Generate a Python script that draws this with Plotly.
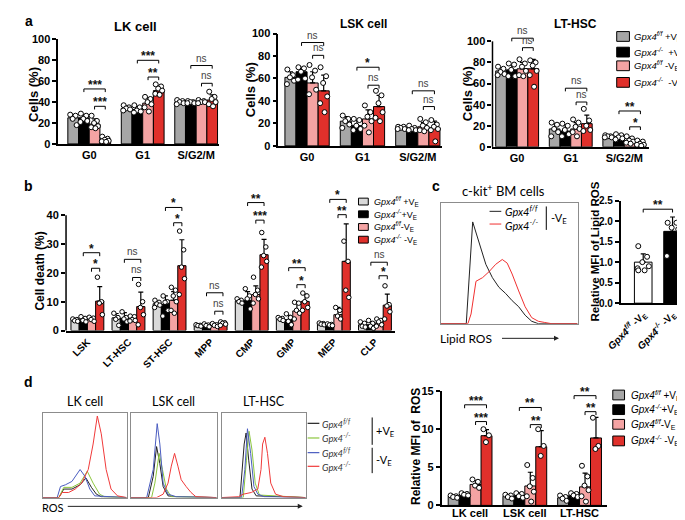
import plotly.graph_objects as go

W, H = 685, 520
def X(px): return px / W
def Y(py): return 1 - py / H

FONT = "Liberation Sans, Arial, sans-serif"
HFONT = "Lato, Open Sans, sans-serif"

# ---------------- data ----------------
phases = ["G0", "G1", "S/G2/M"]
legend_labels_a = ["<i>Gpx4</i><sup><i>f/f</i></sup> +V<sub>E</sub>",
                   "<i>Gpx4</i><sup><i>-/-</i></sup>  +V<sub>E</sub>",
                   "<i>Gpx4</i><sup><i>f/f</i></sup> -V<sub>E</sub>",
                   "<i>Gpx4</i><sup><i>-/-</i></sup>  -V<sub>E</sub>"]
legend_labels_bd = ["<i>Gpx4</i><sup><i>f/f</i></sup> +V<sub>E</sub>",
                    "<i>Gpx4</i><sup><i>-/-</i></sup>+V<sub>E</sub>",
                    "<i>Gpx4</i><sup><i>f/f</i></sup>-V<sub>E</sub>",
                    "<i>Gpx4</i><sup><i>-/-</i></sup> -V<sub>E</sub>"]

# panel a, LK cell (series x phase)
lk_means = [[25, 34, 40], [25, 33, 40], [19, 39, 40], [4, 51, 42]]
lk_sd = [[3, 2, 1], [3, 3, 1], [5, 5, 1.5], [2, 4, 5]]
lk_dots = [
    [[28, 27, 24, 18], [37, 35, 34, 33, 32], [42, 41, 40, 39, 38]],
    [[29, 27, 24, 22, 21], [37, 35, 32, 31, 30], [41, 40, 40, 39, 39]],
    [[27, 22, 20, 17, 16, 15], [45, 43, 40, 38, 35, 31], [42, 41, 40, 40, 39]],
    [[7, 5, 4, 3, 2.5, 2], [57, 55, 53, 51, 48, 47], [50, 45, 43, 40, 38, 36]],
]
lk_sig = [(0, 1, 3, 52.6, "***"), (0, 2, 3, 36, "***"), (1, 1, 3, 80, "***"),
          (1, 2, 3, 64, "**"), (2, 1, 3, 75, "ns"), (2, 2, 3, 58, "ns")]

# panel a, LSK cell
lsk_means = [[61, 22, 16], [66, 18, 15], [56, 24, 17], [49, 35, 16]]
lsk_sd = [[5, 4, 1], [4, 5, 2], [10, 8, 4], [14, 10, 6]]
lsk_dots = [
    [[68, 63, 61, 58, 55], [27, 24, 22, 19, 16], [17, 17, 16, 15, 15]],
    [[70, 69, 66, 60, 59], [24, 23, 18, 15, 14], [18, 16, 15, 14, 14]],
    [[72, 67, 61, 50, 46], [36, 30, 26, 22, 18, 12], [24, 21, 18, 16, 14, 13]],
    [[70, 62, 56, 44, 38, 30], [49, 45, 38, 30, 25, 22], [23, 19, 17, 15, 14, 4]],
]
lsk_sig = [(0, 1, 3, 92, "ns"), (0, 2, 3, 80.6, "ns"), (1, 1, 3, 70, "*"),
           (1, 2, 3, 54, "ns"), (2, 1, 3, 49, "ns"), (2, 2, 3, 35, "ns")]

# panel a, LT-HSC
lt_means = [[72, 17, 10], [73, 15, 9], [74, 17, 6], [74, 22, 3]]
lt_sd = [[3, 5, 1], [5, 5, 2], [6, 6, 3], [9, 8, 2]]
lt_dots = [
    [[76, 74, 71, 69, 68], [23, 21, 17, 14, 10], [11, 10, 10, 9, 9]],
    [[79, 78, 73, 67, 67], [22, 20, 16, 12, 10], [12, 11, 9, 8, 7]],
    [[83, 79, 76, 72, 68, 67], [26, 23, 19, 17, 14, 10], [10, 8, 6, 5, 4, 3]],
    [[82, 80, 77, 72, 68, 57], [36, 25, 20, 16, 15], [6, 5, 3, 2, 2, 1]],
]
lt_sig = [(0, 1, 3, 103, "ns"), (0, 2, 3, 94, "ns"), (1, 1, 3, 55.6, "ns"),
          (1, 2, 3, 42.5, "ns"), (2, 1, 3, 34, "**"), (2, 2, 3, 19, "*")]

# panel b, cell death
b_cats = ["LSK", "LT-HSC", "ST-HSC", "MPP", "CMP", "GMP", "MEP", "CLP"]
b_means = [[3.5, 4.4, 9.3, 1.7, 10.2, 4.0, 2.3, 2.0],
           [3.7, 4.2, 9.0, 1.7, 10.5, 3.8, 2.0, 2.0],
           [3.8, 4.0, 10.5, 1.8, 12.5, 6.8, 5.5, 2.6],
           [10.2, 8.3, 22.5, 2.4, 26.3, 10.1, 24.0, 8.8]]
b_sd = [[0.5, 1.5, 1.0, 0.3, 0.8, 0.5, 0.3, 0.5],
        [1.0, 2.0, 3.0, 0.4, 3.0, 1.5, 0.3, 1.0],
        [0.8, 1.0, 3.0, 0.4, 3.0, 3.0, 2.5, 1.0],
        [5.0, 5.0, 9.0, 0.4, 5.3, 2.5, 13.0, 3.8]]
b_dots = [
    [[4, 3.8, 3.4, 3.2], [6, 4.5, 3.9, 1.8], [10.5, 9.8, 9.2, 8.8, 8], [2, 1.8, 1.7, 1.5],
     [11, 10.5, 10, 9.5], [4.5, 4.2, 3.9, 3.5], [2.6, 2.4, 2.2, 2.0], [3, 2.5, 1.5, 1.2]],
    [[4.8, 4.2, 3.5, 3], [6.5, 4.5, 4, 3], [12, 10, 9.8, 7, 5], [2.3, 1.9, 1.7, 1.3],
     [14.5, 12, 11, 7.5], [5.8, 4.5, 3.2, 2], [2.3, 2.1, 1.9, 1.7], [3.5, 2.5, 1.5, 0.8]],
    [[4.6, 4.3, 3.8, 3.2], [5, 4.8, 3.8, 3.5, 3.3], [15, 14, 12, 10, 7, 6], [2.4, 2, 1.8, 1.4],
     [18.5, 14, 12.5, 11, 9.5], [9.8, 9.5, 7, 6, 4], [8, 7, 5, 4], [4, 3.5, 3, 2, 1.5]],
    [[18.5, 10, 9.5, 5.5], [16, 10, 8, 5.5, 2], [34.5, 28, 22, 18, 12.5], [3, 2.7, 2.5, 2.2, 1.8],
     [34, 29, 26, 24, 22], [13, 12, 10, 8, 7], [31, 24, 14, 11.5], [15.5, 9, 8.5, 6.5, 4]],
]
b_sig = [(0, 1, 3, 27, "*"), (0, 2, 3, 21.6, "*"), (1, 1, 3, 24.7, "ns"), (1, 2, 3, 18.4, "ns"),
         (2, 1, 3, 42.7, "*"), (2, 2, 3, 37.4, "*"), (3, 1, 3, 13.1, "ns"), (3, 2, 3, 6.7, "ns"),
         (4, 1, 3, 44.4, "**"), (4, 2, 3, 38.3, "***"), (5, 1, 3, 21.8, "**"), (5, 2, 3, 15.9, "*"),
         (6, 1, 3, 45.5, "*"), (6, 2, 3, 40.2, "**"), (7, 1, 3, 23.7, "ns"), (7, 2, 3, 19, "*")]

# panel c, lipid ROS histogram (x in % of channel, y relative count)
c_ff_x = [0, 18.7, 23.4, 28.2, 33, 37.8, 42.6, 47.4, 52.2, 57, 61.7, 66.5, 71.3, 100]
c_ff_y = [0, 0, 0.84, 0.67, 0.49, 0.38, 0.30, 0.25, 0.19, 0.14, 0.07, 0.02, 0, 0]
c_ko_x = [0, 19.9, 22.2, 25.8, 30.6, 35.4, 40.2, 45, 48.6, 52.2, 57, 61.7, 66.5, 71.3, 76, 81, 100]
c_ko_y = [0, 0, 0.08, 0.35, 0.38, 0.43, 0.49, 0.53, 0.50, 0.41, 0.27, 0.14, 0.05, 0.02, 0.01, 0, 0]

# panel c, relative MFI of lipid ROS
c_cats = ["<i>Gpx4</i><sup><i>f/f</i></sup> -V<sub>E</sub>", "<i>Gpx4</i><sup><i>-/-</i></sup> -V<sub>E</sub>"]
c_means = [1.0, 1.75]
c_sd = [0.2, 0.35]
c_dots = [[1.39, 1.13, 1.0, 0.9, 0.85, 0.8, 0.8], [1.96, 1.96, 1.84, 1.8, 1.15]]
c_sig = [(0, 1, 2.29, "**")]

# panel d, ROS histograms: [black f/f +VE, green -/- +VE, blue f/f -VE, red -/- -VE]
d_hist = [
    [  # LK cell
        ([0, 19.4, 25.2, 34.9, 44.6, 51.6, 58.1, 64, 69.8, 100], [0, 0, .1, .1, .15, .23, .12, .04, .01, 0]),
        ([0, 19.4, 25.2, 34.9, 44.6, 53.1, 60.1, 67.8, 73.6, 100], [0, 0, .12, .12, .17, .31, .17, .04, .01, 0]),
        ([0, 17.4, 21.3, 27.1, 34.9, 44.6, 50.4, 56.2, 62, 100], [0, 0, .13, .15, .19, .33, .25, .1, .02, 0]),
        ([0, 19.4, 23.3, 31, 38.8, 46.5, 54.3, 60.1, 65.1, 69.8, 75.6, 81.4, 89.1, 100],
         [0, 0, .06, .06, .1, .17, .33, .63, .96, .75, .33, .1, .02, 0]),
    ],
    [  # LSK cell
        ([0, 20.6, 26.3, 30.2, 34, 37.8, 43.5, 53.1, 100], [0, 0, .25, .6, .4, .13, .02, .01, 0]),
        ([0, 24.4, 28.2, 33.2, 37, 41.6, 47.3, 100], [0, 0, .17, .52, .33, .1, .01, 0]),
        ([0, 18.7, 26.3, 30.9, 34, 37.8, 43.5, 53.1, 100], [0, 0, .33, .87, .63, .17, .04, .01, 0]),
        ([0, 30.2, 37.8, 43.5, 47.3, 51.1, 55, 58.8, 64.5, 70.2, 75.9, 100],
         [0, 0, .04, .17, .37, .52, .37, .21, .13, .06, .01, 0]),
    ],
    [  # LT-HSC
        ([0, 21.9, 26.9, 29.2, 32.3, 36.2, 41.2, 100], [0, 0, .63, .76, .44, .1, .02, 0]),
        ([0, 25.8, 29.6, 32.7, 36.2, 40, 45, 100], [0, 0, .44, .78, .56, .17, .03, 0]),
        ([0, 23.8, 27.7, 30.8, 34.6, 38.5, 43.1, 50.8, 100], [0, 0, .33, .81, .52, .13, .04, .01, 0]),
        ([0, 20, 25.8, 35.4, 43.1, 46.9, 48.8, 51.5, 54.6, 58.5, 64.2, 73.8, 100],
         [0, .01, .04, .06, .1, .33, .63, .71, .52, .17, .04, .01, 0]),
    ],
]
d_titles = ["LK cell", "LSK cell", "LT-HSC"]

# panel d, relative MFI of ROS
d_cats = ["LK cell", "LSK cell", "LT-HSC"]
d_means = [[1.2, 1.2, 1.0], [1.4, 1.3, 1.3], [2.75, 2.55, 2.43], [9.15, 7.7, 8.85]]
d_sd = [[0.15, 0.15, 0.2], [0.2, 0.3, 0.3], [0.5, 1.8, 1.8], [0.8, 2.1, 2.7]]
d_dots = [
    [[1.3, 1.2, 1.1, 1.0], [1.4, 1.3, 1.1, 0.9], [1.3, 1.1, 0.9, 0.6]],
    [[1.6, 1.5, 1.4, 1.3], [1.6, 1.5, 1.2, 1.0], [1.6, 1.5, 1.3, 1.1]],
    [[3.4, 3.1, 2.6, 2.3], [5.3, 3.6, 2.5, 1.8, 1.2, 0.5], [5.2, 3.8, 2.6, 2.0, 1.2, 0.5]],
    [[10, 9.2, 8.3], [10, 7.8, 6.5], [11.5, 7.8, 7.4]],
]
d_sig = [(0, 1, 3, 13.2, "***"), (0, 2, 3, 11.0, "***"), (1, 1, 3, 12.85, "**"),
         (1, 2, 3, 10.6, "**"), (2, 1, 3, 14.4, "**"), (2, 2, 3, 12.3, "**")]

# ---------------- style ----------------
COL_A = ["#a6a6a6", "#000000", "#f4a3a3", "#e0302b"]
COL_B = ["#d9d9d9", "#000000", "#f4a3a3", "#e0302b"]
HIST_COL = ["#222222", "#8cc63e", "#4a5cc0", "#f03a3a"]
OFFS = [-0.3, -0.1, 0.1, 0.3]
JIT = [-0.28, 0.22, -0.05, 0.32, -0.32, 0.08]

fig = go.Figure()
layout = dict(width=W, height=H, margin=dict(l=0, r=0, t=0, b=0), paper_bgcolor="white",
              plot_bgcolor="rgba(0,0,0,0)", barmode="overlay", showlegend=False,
              font=dict(family=FONT, color="black"))
shapes, annos = [], []


def bar_axes(k, xpx, ypx_bottom, ypx_top, xrange, yrange, tickvals, ticktext, ytickvals,
             yfmt=None, showyline=True, tickangle=0, xfs=11, yfs=11, xstandoff=0):
    layout[f"xaxis{k}"] = dict(domain=[X(xpx[0]), X(xpx[1])], range=xrange, anchor=f"y{k}",
                               tickvals=tickvals, ticktext=ticktext, ticks="", showline=True,
                               linecolor="black", linewidth=1.5, showgrid=False, zeroline=False,
                               tickangle=tickangle, ticklabelstandoff=xstandoff,
                               tickfont=dict(family=FONT, size=xfs, weight="bold", color="black"))
    layout[f"yaxis{k}"] = dict(domain=[Y(ypx_bottom), Y(ypx_top)], range=yrange, anchor=f"x{k}",
                               tickvals=ytickvals, ticks="outside", ticklen=4, tickwidth=1.5,
                               tickcolor="black", showline=showyline, linecolor="black", linewidth=1.5,
                               showgrid=False, zeroline=False, tickformat=yfmt,
                               tickfont=dict(family=FONT, size=yfs, weight="bold", color="black"))


def bar_traces(k, means, sds, dots, colors, offs, w, dsize=5):
    n = len(means[0])
    for g in range(len(means)):
        fig.add_trace(go.Bar(x=[i + offs[g] for i in range(n)], y=means[g], width=w,
                             marker=dict(color=colors[g], line=dict(color="black", width=1)),
                             error_y=dict(type="data", symmetric=False, array=sds[g], arrayminus=[0] * n,
                                          color="black", thickness=1.2, width=2.5),
                             xaxis=f"x{k}", yaxis=f"y{k}", hoverinfo="skip"))
    for g in range(len(means)):
        dx, dy = [], []
        for i in range(n):
            for j, v in enumerate(dots[g][i]):
                dx.append(i + offs[g] + JIT[j % len(JIT)] * w)
                dy.append(v)
        fig.add_trace(go.Scatter(x=dx, y=dy, mode="markers", cliponaxis=False,
                                 marker=dict(symbol="circle", size=dsize, color="white",
                                             line=dict(color="black", width=1)),
                                 xaxis=f"x{k}", yaxis=f"y{k}", hoverinfo="skip"))


def brackets(k, sigs, offs, tick):
    for s in sigs:
        if len(s) == 5:
            ci, g0, g1, yv, lab = s
            x0, x1 = ci + offs[g0], ci + offs[g1]
        else:
            g0, g1, yv, lab = s
            x0, x1 = offs[g0], offs[g1]
        shapes.append(dict(type="path", xref=f"x{k}", yref=f"y{k}",
                           path=f"M {x0},{yv - tick} L {x0},{yv} L {x1},{yv} L {x1},{yv - tick}",
                           line=dict(color="black", width=1)))
        star = lab != "ns"
        annos.append(dict(x=(x0 + x1) / 2, y=yv, xref=f"x{k}", yref=f"y{k}", text=lab, showarrow=False,
                          yanchor="bottom", yshift=-5 if star else 0,
                          font=dict(family=FONT, size=12 if star else 10,
                                    color="#111" if star else "#444",
                                    weight="bold" if star else "normal")))


def text(px, py, t, size=11, weight="normal", angle=0, xanchor="center", family=FONT, color="black"):
    a = dict(x=X(px), y=Y(py), xref="paper", yref="paper", text=t, showarrow=False,
             xanchor=xanchor, yanchor="middle", textangle=angle, borderpad=0,
             font=dict(family=family, size=size, weight=weight, color=color))
    if xanchor == "left":
        a.update(width=90, align="left")
    annos.append(a)


def vline_paper(px, py0, py1, color="black", width=1.5):
    shapes.append(dict(type="line", xref="paper", yref="paper", x0=X(px), x1=X(px), y0=Y(py0), y1=Y(py1),
                       line=dict(color=color, width=width)))


def swatch_legend(xsw, wsw, hsw, xtext, ys, colors, labels, size):
    for c, yy, lab in zip(colors, ys, labels):
        shapes.append(dict(type="rect", xref="paper", yref="paper", x0=X(xsw), x1=X(xsw + wsw),
                           y0=Y(yy + hsw / 2), y1=Y(yy - hsw / 2), fillcolor=c,
                           line=dict(color="black", width=1)))
        text(xtext, yy, lab, size=size, xanchor="left")


# ---- panel a ----
bar_axes(1, (36, 200), 133, 26, [-0.58, 2.42], [0, 100], [0, 1, 2], phases, [0, 20, 40, 60, 80, 100])
bar_traces(1, lk_means, lk_sd, lk_dots, COL_A, OFFS, 0.2)
brackets(1, lk_sig, OFFS, 3)

bar_axes(2, (261, 428), 135, 20, [-0.52, 2.43], [0, 100], [0, 1, 2], phases, [0, 20, 40, 60, 80, 100])
bar_traces(2, lsk_means, lsk_sd, lsk_dots, COL_A, OFFS, 0.2)
brackets(2, lsk_sig, OFFS, 3)

lt_top = 136 - 106 * 1.08
bar_axes(3, (480, 640), 136, lt_top, [-0.46, 2.46], [0, 106], [0, 1, 2], phases,
         [0, 20, 40, 60, 80, 100], showyline=False)
vline_paper(480, 136, 28)
bar_traces(3, lt_means, lt_sd, lt_dots, COL_A, OFFS, 0.2)
brackets(3, lt_sig, OFFS, 3)

text(115, 13, "LK cell", size=13, weight="bold")
text(348, 10, "LSK cell", size=12, weight="bold")
text(565, 10, "LT-HSC", size=12, weight="bold")
text(10, 82, "Cells (%)", size=13, weight="bold", angle=-90)
text(232, 77, "Cells (%)", size=13, weight="bold", angle=-90)
text(454, 82, "Cells (%)", size=13, weight="bold", angle=-90)
swatch_legend(607, 13, 10, 624, [23, 39, 53, 70], COL_A, legend_labels_a, 9.5)

# ---- panel b ----
b_top = 324 - 47 * 2.95
bar_axes(4, (44, 380), 324, b_top, [-0.52, 7.48], [0, 47], list(range(8)), b_cats,
         [0, 10, 20, 30, 40], showyline=False, tickangle=-45, xfs=10)
vline_paper(44, 324, 206)
bar_traces(4, b_means, b_sd, b_dots, COL_B, OFFS, 0.2, dsize=4.5)
brackets(4, b_sig, OFFS, 1.2)
text(17, 263, "Cell death (%)", size=12, weight="bold", angle=-90)
swatch_legend(343, 10, 7, 358, [192, 205, 218, 231], COL_B, legend_labels_bd, 9)

# ---- panel c histogram ----
def hist_axes(k, xpx, ypx):
    layout[f"xaxis{k}"] = dict(domain=[X(xpx[0]), X(xpx[1])], range=[0, 100], anchor=f"y{k}",
                               showticklabels=False, ticks="", showline=True, mirror=True,
                               linecolor="#8c8c8c", linewidth=1, showgrid=False, zeroline=False)
    layout[f"yaxis{k}"] = dict(domain=[Y(ypx[0]), Y(ypx[1])], range=[0, 1], anchor=f"x{k}",
                               showticklabels=False, ticks="", showline=True, mirror=True,
                               linecolor="#8c8c8c", linewidth=1, showgrid=False, zeroline=False)

hist_axes(5, (427, 567), (317, 193))
fig.add_trace(go.Scatter(x=c_ff_x, y=c_ff_y, mode="lines", line=dict(color="#222", width=1),
                         xaxis="x5", yaxis="y5", hoverinfo="skip"))
fig.add_trace(go.Scatter(x=c_ko_x, y=c_ko_y, mode="lines", line=dict(color="#f03030", width=1),
                         xaxis="x5", yaxis="y5", hoverinfo="skip"))
text(491, 181, "c-kit<sup>+</sup> BM cells", size=13, family=HFONT)
shapes.append(dict(type="line", xref="paper", yref="paper", x0=X(477), x1=X(489), y0=Y(202), y1=Y(202),
                   line=dict(color="#222", width=1)))
shapes.append(dict(type="line", xref="paper", yref="paper", x0=X(477), x1=X(489), y0=Y(215), y1=Y(215),
                   line=dict(color="#f03030", width=1)))
text(492, 201, "<i>Gpx4</i><sup><i>f/f</i></sup>", size=11, xanchor="left", family=HFONT)
text(492, 215, "<i>Gpx4</i><sup><i>-/-</i></sup>", size=11, xanchor="left", family=HFONT)
vline_paper(535, 197, 221, width=1)
text(539, 209, "-V<sub>E</sub>", size=11, xanchor="left", family=HFONT)
text(425, 332, "Lipid ROS", size=12, xanchor="left", family=HFONT)
annos.append(dict(x=X(548), y=Y(332), xref="paper", yref="paper", ax=-60, ay=0, axref="pixel",
                  ayref="pixel", showarrow=True, arrowhead=2, arrowsize=1, arrowwidth=1,
                  arrowcolor="#222", text=" "))

# ---- panel c bars ----
bar_axes(6, (611, 683), 296, 191, [-0.77, 1.63], [0, 2.5], [0, 1], c_cats,
         [0, 0.5, 1.0, 1.5, 2.0, 2.5], yfmt=".1f", tickangle=-45, xfs=10, yfs=10)
bar_traces(6, [[c_means[0], None], [None, c_means[1]]], [[c_sd[0], 0], [0, c_sd[1]]],
           [[c_dots[0], []], [[], c_dots[1]]], ["white", "black"], [0, 0], 0.6)
brackets(6, c_sig, [0, 1], 0.08)
text(585, 243, "Relative MFI of Lipid ROS", size=11.5, weight="bold", angle=-90)

# ---- panel d histograms ----
for idx, (xpx, curves, ttl) in enumerate(zip([(20, 106), (110, 198), (203, 289)], d_hist, d_titles)):
    k = 7 + idx
    hist_axes(k, xpx, (495, 408))
    for (xs, ys), col in zip(curves, HIST_COL):
        fig.add_trace(go.Scatter(x=xs, y=ys, mode="lines", line=dict(color=col, width=1),
                                 xaxis=f"x{k}", yaxis=f"y{k}", hoverinfo="skip"))
    text((xpx[0] + xpx[1]) / 2, 397, ttl, size=12.5, family=HFONT)

for yy, col, lab in zip([419, 434, 449, 463], HIST_COL,
                        ["<i>Gpx4</i><sup><i>f/f</i></sup>", "<i>Gpx4</i><sup><i>-/-</i></sup>",
                         "<i>Gpx4</i><sup><i>f/f</i></sup>", "<i>Gpx4</i><sup><i>-/-</i></sup>"]):
    shapes.append(dict(type="line", xref="paper", yref="paper", x0=X(291), x1=X(303), y0=Y(yy), y1=Y(yy),
                       line=dict(color=col, width=1.2)))
    text(305, yy, lab, size=9.5, xanchor="left", family=HFONT, color="#333")
vline_paper(357, 413, 441, width=1)
vline_paper(357, 444, 470, width=1)
text(360, 427, "+V<sub>E</sub>", size=11, xanchor="left", family=HFONT)
text(360, 457, "-V<sub>E</sub>", size=11, xanchor="left", family=HFONT)
text(18, 505, "ROS", size=11, xanchor="left", family=HFONT)
annos.append(dict(x=X(286), y=Y(504), xref="paper", yref="paper", ax=-238, ay=0, axref="pixel",
                  ayref="pixel", showarrow=True, arrowhead=2, arrowsize=1, arrowwidth=1,
                  arrowcolor="#222", text=" "))

# ---- panel d bars ----
bar_axes(10, (428, 597), 503, 386, [-0.52, 2.5], [0, 15], [0, 1, 2], d_cats, [0, 5, 10, 15],
         xstandoff=-3)
bar_traces(10, d_means, d_sd, d_dots, COL_A, OFFS, 0.2)
brackets(10, d_sig, OFFS, 0.45)
text(402, 443, "Relative MFI of  ROS", size=12, weight="bold", angle=-90)
swatch_legend(603, 12, 10, 621, [390, 405, 420, 437], COL_A, legend_labels_bd, 10)

# ---- panel letters ----
for lx, ly, l in [(6, 7, "a"), (6, 176, "b"), (422, 176, "c"), (6, 377, "d")]:
    text(lx, ly, l, size=14, weight="bold")

layout["shapes"] = shapes
layout["annotations"] = annos
fig.update_layout(**layout)
fig.write_html("out.html")
